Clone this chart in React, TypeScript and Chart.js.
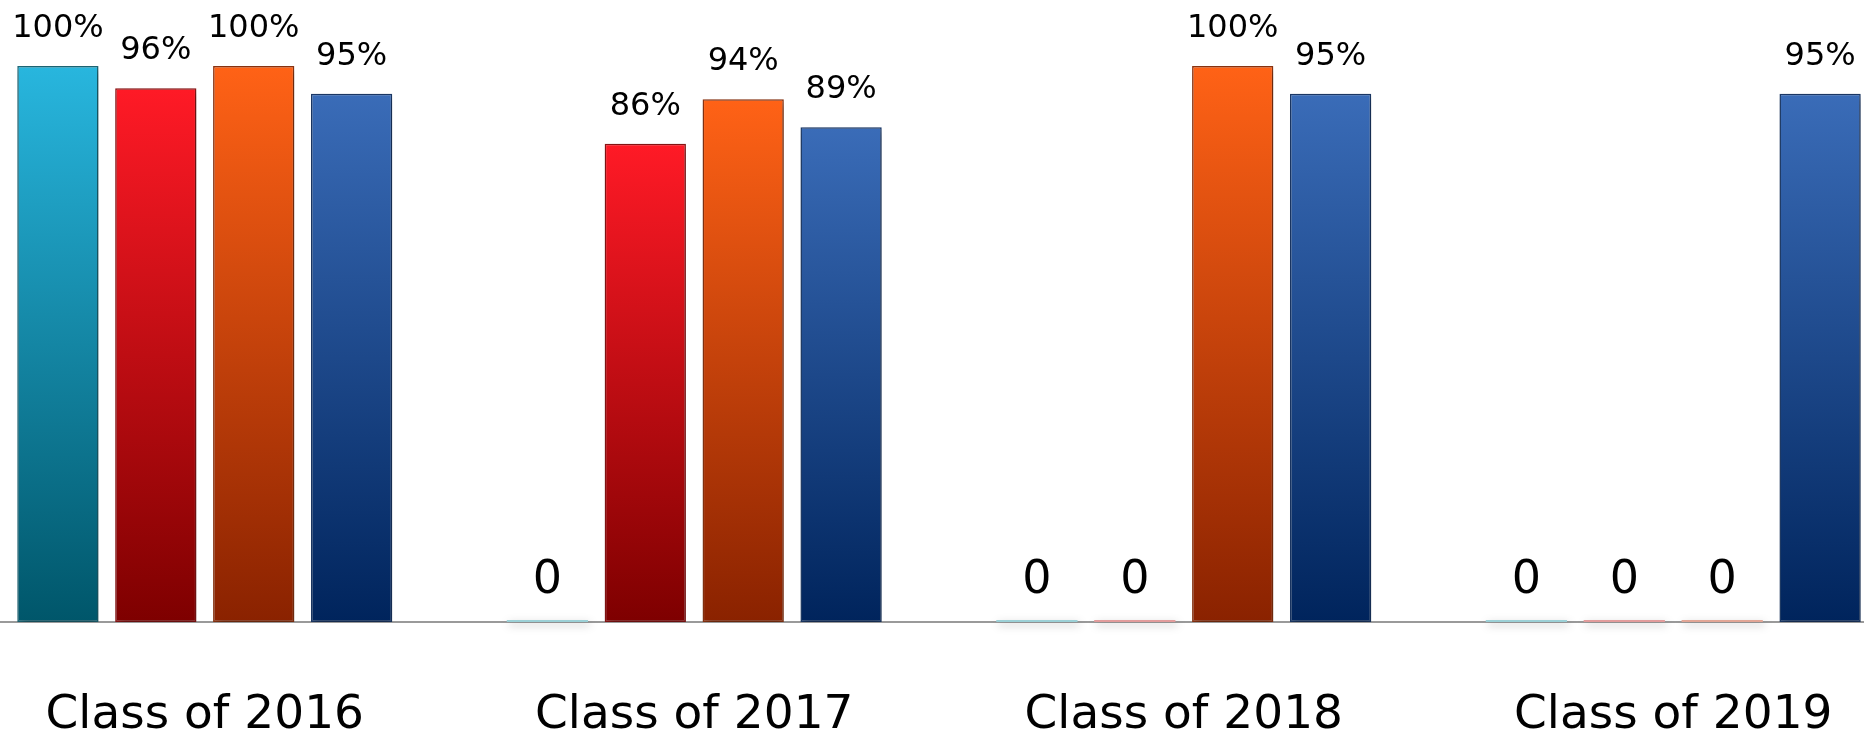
import React, { useEffect, useRef } from 'react';
import { Chart, registerables } from 'chart.js';

Chart.register(...registerables);

const categories = ['Class of 2016', 'Class of 2017', 'Class of 2018', 'Class of 2019'];
const seriesNames = ['Series 1', 'Series 2', 'Series 3', 'Series 4'];
const tealValues = [1.0, 0, 0, 0];
const redValues = [0.96, 0.86, 0, 0];
const orangeValues = [1.0, 0.94, 1.0, 0];
const blueValues = [0.95, 0.89, 0.95, 0.95];

const palettes = [
  { top: '#28B6DE', bottom: '#00566A', border: '#1C6878', zero: '#9CD0D6' },
  { top: '#FF1A26', bottom: '#7E0000', border: '#8E1414', zero: '#E29C9C' },
  { top: '#FF6216', bottom: '#8A2200', border: '#8E3410', zero: '#E2A696' },
  { top: '#3A6CB8', bottom: '#00245C', border: '#1C3A6A', zero: '#9FB2D0' },
];

const FONT = '"DejaVu Sans", Verdana, sans-serif';

const fmt = (v: number) => (v ? Math.round(v * 100) + '%' : '0');

const effectsPlugin = {
  id: 'barEffects',
  beforeDatasetsDraw(chart: any) {
    const c = chart.ctx;
    c.save();
    c.shadowColor = 'rgba(0,0,0,0.35)';
    c.shadowBlur = 8;
    c.shadowOffsetX = 2;
    c.shadowOffsetY = 3;
  },
  afterDatasetsDraw(chart: any) {
    const c = chart.ctx;
    c.restore();
    c.save();
    c.fillStyle = '#000';
    c.textAlign = 'center';
    c.textBaseline = 'alphabetic';
    const y = chart.scales.y;
    chart.data.datasets.forEach((ds: any, i: number) => {
      const meta = chart.getDatasetMeta(i);
      meta.data.forEach((el: any, j: number) => {
        const v = ds.data[j] as number;
        const top = y.getPixelForValue(v);
        c.font = v ? `32px ${FONT}` : `46px ${FONT}`;
        c.fillText(fmt(v), el.x, top - 29);
      });
    });
    c.restore();
  },
};

export default function App() {
  const ref = useRef<HTMLCanvasElement | null>(null);

  useEffect(() => {
    if (!ref.current) return;
    const allValues = [tealValues, redValues, orangeValues, blueValues];
    const chart = new Chart(ref.current, {
      type: 'bar',
      data: {
        labels: categories,
        datasets: allValues.map((vals, i) => ({
          label: seriesNames[i],
          data: vals,
          clip: false as any,
          minBarLength: 2,
          borderSkipped: false,
          borderWidth: (ctx: any) => (ctx.raw ? 1.5 : 0),
          borderColor: palettes[i].border,
          backgroundColor: (ctx: any) => {
            const p = palettes[ctx.datasetIndex];
            const v = ctx.raw as number;
            if (!v) return p.zero;
            const ch = ctx.chart;
            const ys = ch.scales && ch.scales.y;
            if (!ys) return p.top;
            const t = ys.getPixelForValue(v);
            const b = ys.getPixelForValue(0);
            if (!isFinite(t) || !isFinite(b) || t === b) return p.top;
            const g = ch.ctx.createLinearGradient(0, t, 0, b);
            g.addColorStop(0, p.top);
            g.addColorStop(1, p.bottom);
            return g;
          },
        })),
      },
      options: {
        responsive: false,
        animation: false,
        devicePixelRatio: 1,
        layout: { padding: { top: 66, bottom: 1.8, left: 0, right: 0 } },
        datasets: { bar: { barPercentage: 0.83, categoryPercentage: 0.8 } },
        plugins: { legend: { display: false }, tooltip: { enabled: false }, title: { display: false } },
        scales: {
          x: {
            grid: { display: false, drawTicks: false, tickLength: 0 },
            border: { display: true, color: '#9a9a9a', width: 2 },
            ticks: {
              color: '#000',
              font: { family: FONT, size: 47, lineHeight: 4.004 },
              padding: 0,
              maxRotation: 0,
              autoSkip: false,
            },
          },
          y: {
            display: false,
            min: 0,
            max: 1,
          },
        },
      },
      plugins: [effectsPlugin],
    } as any);
    return () => chart.destroy();
  }, []);

  return (
    <div
      style={{
        position: 'fixed',
        left: 0,
        top: 0,
        width: 1864,
        height: 739,
        overflow: 'hidden',
        background: '#fff',
      }}
    >
      <canvas
        ref={ref}
        width={1958}
        height={812}
        style={{ position: 'absolute', left: -40, top: 0, width: 1958, height: 812 }}
      />
    </div>
  );
}
